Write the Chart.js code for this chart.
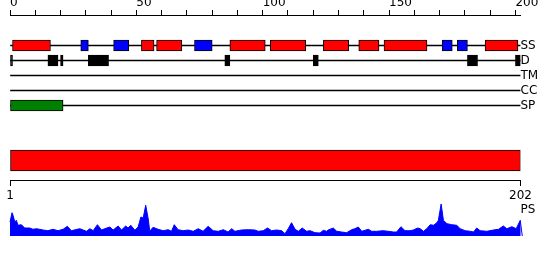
<!DOCTYPE html>
<html>
<head>
<meta charset="utf-8">
<script src="https://cdn.jsdelivr.net/npm/chart.js@4.4.1/dist/chart.umd.min.js"></script>
<style>
  html, body { margin: 0; padding: 0; background: #fff; }
  #plot { display: block; }
</style>
</head>
<body>
<canvas id="plot" width="550" height="260"></canvas>
<script>
// sequence and ruler
const seqLength = 202;
const rulerTicks = [0, 10, 20, 30, 40, 50, 60, 70, 80, 90, 100, 110, 120, 130, 140, 150, 160, 170, 180, 190, 200];
const rulerLabels = [0, 50, 100, 150, 200];
const domainLabels = ['1', '202'];

// secondary structure (residue ranges)
const helixStart = [2, 53, 59, 88, 104, 125, 139, 149, 189];
const helixEnd = [16, 57, 68, 101, 117, 134, 146, 165, 201];
const strandStart = [29, 42, 74, 172, 178];
const strandEnd = [31, 47, 80, 175, 181];

// disorder, signal peptide, whole domain
const disorderStart = [1, 16, 21, 32, 86, 121, 182, 201];
const disorderEnd = [1, 19, 21, 39, 87, 122, 185, 202];
const signalStart = [1];
const signalEnd = [21];
const domainStart = [1];
const domainEnd = [202];

const trackNames = ['SS', 'D', 'TM', 'CC', 'SP', 'PS'];

// PS profile (position along sequence, score)
const profilePos = [0, 0.8, 1.2, 1.9, 2.5, 3.2, 4.5, 5.8, 7.8, 9.1, 10.5, 13.1, 15, 17, 19, 21, 22.7, 24.3, 27.6, 30.3,
  31.6, 32.9, 34.6, 36.2, 37.5, 39.5, 40.8, 42.8, 44.1, 45.8, 46.7, 47.8, 49.4, 50.7, 51.8, 52.7, 53.7, 54.7, 55.3, 56.6,
  58.6, 60.6, 62.6, 63.9, 65, 66.5, 68.5, 70.5, 72.5, 74.5, 76.4, 78.4, 80.4, 82.4, 84.4, 86.3, 87.7, 89, 91.6, 94.3,
  96.9, 98.2, 100.2, 101.9, 103.5, 105.5, 107.5, 108.8, 110.1, 111.4, 112.8, 114.1, 115.6, 117.4, 118.7, 120.7, 122.7, 124, 125.3, 125.9,
  127.9, 129.3, 131.2, 133.2, 135.2, 136.5, 137.8, 139.2, 141.8, 143.1, 145.1, 147.7, 149.7, 151.7, 153, 154.7, 156.3, 158.3, 159.6, 161.3,
  162.3, 163.6, 164.9, 166.3, 167.6, 168.9, 169.5, 170.6, 171.5, 172.9, 174.8, 176.8, 178.1, 180.1, 182.1, 183.4, 184.7, 186, 188.7, 191.3,
  193.3, 195.2, 196.6, 198.6, 200.3, 201.9, 202.7];
const profileScore = [14, 23.3, 20.7, 14, 15.7, 10.7, 11.3, 8, 8, 6.7, 7.3, 6, 5.3, 6.7, 5.3, 6.7, 9.7, 5.3, 7.3, 4.7,
  7.3, 5.3, 11.3, 6, 7.3, 9, 6, 10, 6, 10, 8, 10.7, 5.7, 9, 19, 18, 30.7, 17, 4.7, 8.7,
  6.7, 5.3, 6.3, 4.7, 11.3, 6.3, 5.3, 6, 4.7, 7.3, 4.7, 9.7, 5.3, 4.7, 6.3, 4, 7.3, 4.7, 6, 6.3,
  6, 4.7, 5.3, 8, 5.3, 6, 5.3, 2.3, 7.3, 13.3, 6.7, 4.7, 8, 4.7, 5.3, 3.3, 3, 5.7, 4.7, 6,
  8, 4.7, 4, 3.3, 6.3, 7.3, 9, 4.7, 6.7, 4.7, 4.7, 5.3, 4.7, 4, 4, 9.3, 5.3, 5.3, 6, 8,
  7.3, 4.7, 7.3, 11.3, 10.7, 13.3, 15.7, 32, 15.7, 12.3, 11.3, 10.7, 7.3, 5.3, 4.7, 4, 8, 5.3, 4.7, 6,
  6.7, 10, 7.3, 9.3, 7.3, 15.7, 0];

// layout: vertical pixel rows of the tracks
const rowY = { SS: 45.5, D: 60.5, TM: 75.5, CC: 90.5, SP: 105.5, domain: 160.5, ruler2: 180, PS: 210 };

function segments(starts, ends, row) {
  return starts.map((s, i) => ({ x: [s - 1, ends[i]], y: row }));
}

Chart.defaults.font.family = "'DejaVu Sans', sans-serif";
Chart.defaults.font.size = 12;
Chart.defaults.color = '#000';

const boxStyle = {
  type: 'bar', indexAxis: 'y', grouped: false, xAxisID: 'x', yAxisID: 'y',
  borderColor: '#000', borderWidth: 1, borderSkipped: false, order: 1
};

const datasets = [
  Object.assign({}, boxStyle, { data: segments(helixStart, helixEnd, rowY.SS), backgroundColor: '#ff0000', barThickness: 11 }),
  Object.assign({}, boxStyle, { data: segments(strandStart, strandEnd, rowY.SS), backgroundColor: '#0000ff', barThickness: 11 }),
  Object.assign({}, boxStyle, { data: segments(disorderStart, disorderEnd, rowY.D), backgroundColor: '#000000', barThickness: 11 }),
  Object.assign({}, boxStyle, { data: segments(signalStart, signalEnd, rowY.SP), backgroundColor: '#008000', barThickness: 11 }),
  Object.assign({}, boxStyle, { data: segments(domainStart, domainEnd, rowY.domain), backgroundColor: '#ff0000', barThickness: 21 }),
  {
    type: 'bar', indexAxis: 'y', grouped: false, xAxisID: 'x', yAxisID: 'y', order: 10,
    data: trackNames.slice(0, 5).map(n => ({ x: [0, seqLength], y: rowY[n] })),
    backgroundColor: '#000', borderWidth: 0, barThickness: 1
  },
  {
    type: 'line', xAxisID: 'x', yAxisID: 'y2', order: 5,
    data: profilePos.map((p, i) => ({ x: p, y: profileScore[i] })),
    borderColor: '#0000ff', backgroundColor: '#0000ff', borderWidth: 1,
    fill: 'origin', pointRadius: 0, tension: 0, clip: false
  }
];

new Chart(document.getElementById('plot'), {
  type: 'bar',
  data: { datasets: datasets },
  options: {
    responsive: false,
    animation: false,
    devicePixelRatio: 1,
    layout: { padding: { left: 10, right: 0, top: 0, bottom: 0 } },
    plugins: { legend: { display: false }, tooltip: { enabled: false } },
    scales: {
      x: {
        type: 'linear', position: 'top', min: 0, max: seqLength, offset: false,
        afterBuildTicks: s => { s.ticks = rulerTicks.map(v => ({ value: v })); },
        afterFit: s => { s.height = 15; s.paddingLeft = 0; s.paddingRight = 0; },
        ticks: {
          align: 'start', padding: 0, maxRotation: 0, autoSkip: false,
          callback: v => rulerLabels.includes(v) ? String(v) : ''
        },
        grid: { drawOnChartArea: false, offset: false, tickLength: 5, color: '#000' },
        border: { color: '#000', width: 1 }
      },
      x2: {
        type: 'linear', position: { y: rowY.ruler2 }, min: 0, max: seqLength, offset: false,
        afterBuildTicks: s => { s.ticks = [0, seqLength].map(v => ({ value: v })); },
        ticks: { padding: 4, maxRotation: 0, autoSkip: false, callback: (v, i) => domainLabels[i] },
        grid: { drawOnChartArea: false, offset: false, tickLength: 5, color: '#000' },
        border: { color: '#000', width: 1 }
      },
      y: {
        type: 'linear', position: 'right', min: 15, max: 260, reverse: true, offset: false,
        afterBuildTicks: s => { s.ticks = trackNames.map(n => ({ value: rowY[n] })); },
        afterFit: s => { s.width = 29.5; s.paddingTop = 0; s.paddingBottom = 0; },
        ticks: { padding: 0, crossAlign: 'near', autoSkip: false, callback: (v, i) => trackNames[i] },
        grid: { display: false, drawTicks: false, offset: false },
        border: { display: false }
      },
      y2: { type: 'linear', display: false, offset: false, min: -24, max: 221 }
    }
  }
});
</script>
</body>
</html>
